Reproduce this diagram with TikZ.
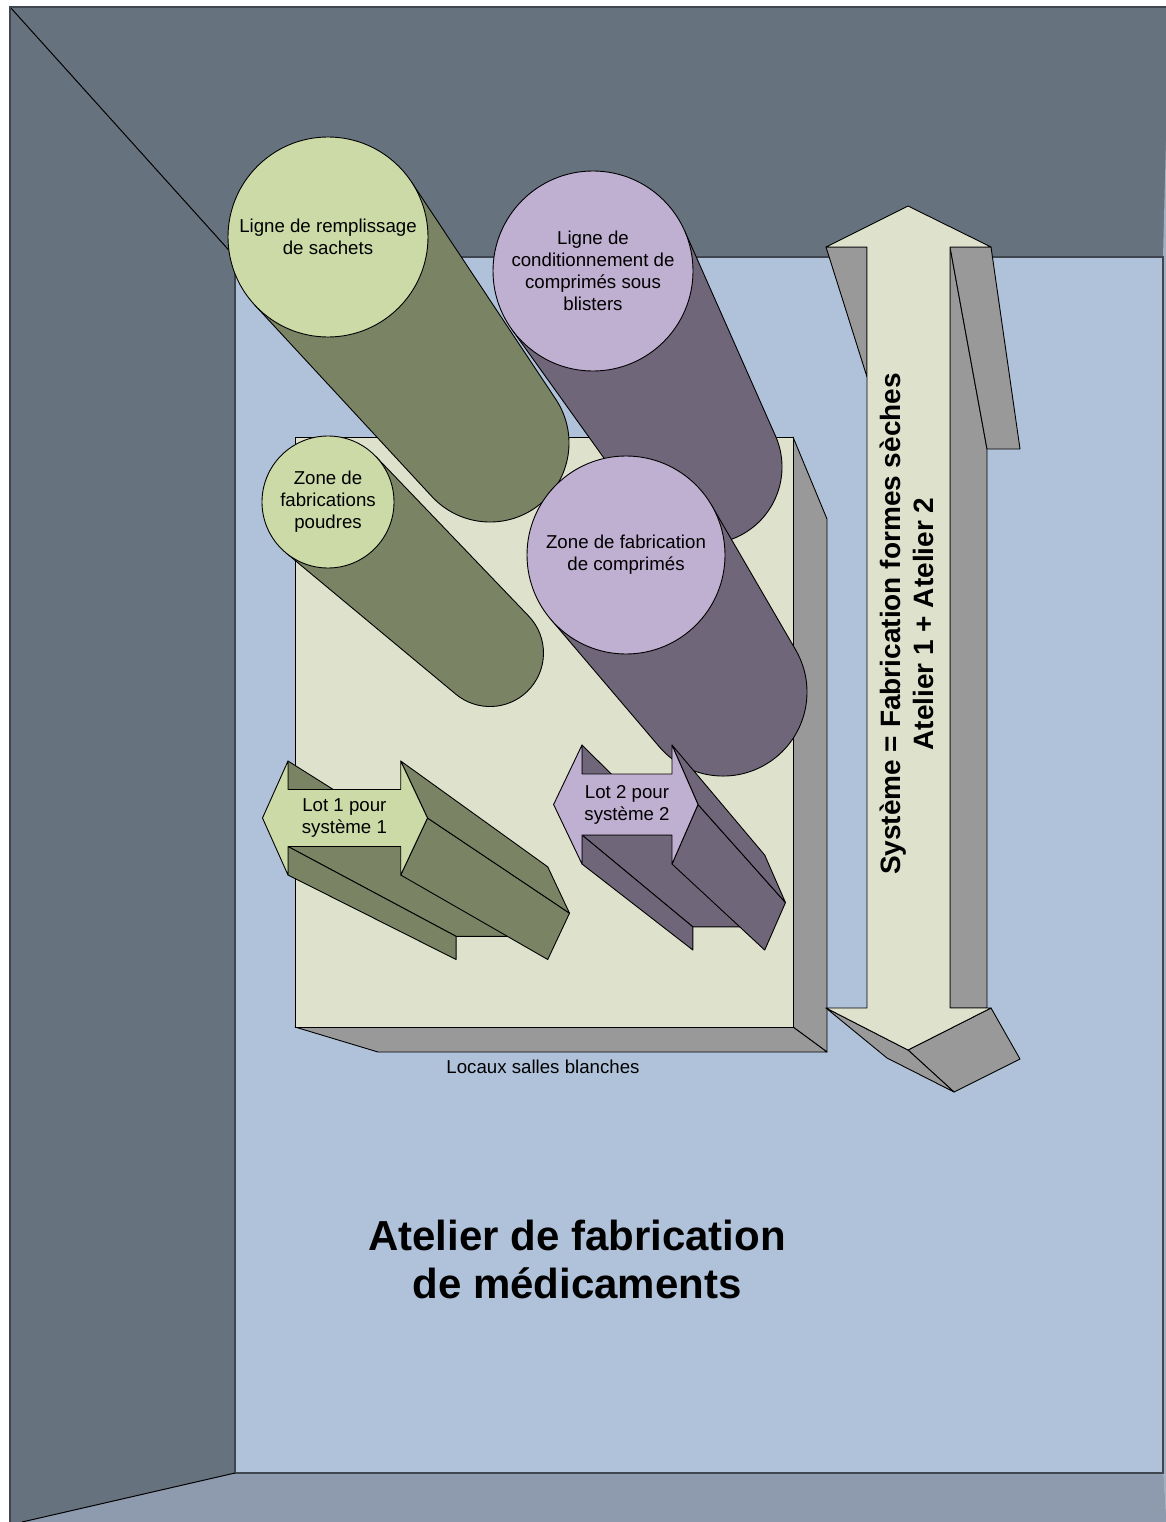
\documentclass[tikz,border=0pt]{standalone}
\usepackage{fontspec}
\setmainfont{Liberation Sans}
\usetikzlibrary{calc}

\definecolor{wallslate}{HTML}{67727F}
\definecolor{backwall}{HTML}{B0C2DA}
\definecolor{floorgray}{HTML}{8E9BAF}
\definecolor{roomface}{HTML}{DEE2CC}
\definecolor{sidegray}{HTML}{999999}
\definecolor{greencap}{HTML}{CCDAA8}
\definecolor{greenbody}{HTML}{7A8364}
\definecolor{purplecap}{HTML}{BFAFD1}
\definecolor{purplebody}{HTML}{706679}
\definecolor{walledge}{HTML}{3F4650}

\newcommand{\lbltext}{\fontsize{18.67}{22}\selectfont}
\newcommand{\systext}{\fontsize{28}{33}\selectfont\bfseries}
\newcommand{\titletext}{\fontsize{42}{48}\selectfont\bfseries}

\begin{document}
\begin{tikzpicture}[
    x=1pt, y=-1pt,
    face/.style={draw=black, line width=0.9pt, line join=round},
    wallline/.style={draw=walledge, line width=1.5pt},
    topdisk/.style={
        circle, draw=black, line width=0.9pt,
        inner sep=0pt, align=center,
        font=\lbltext
    },
    lbl/.style={align=center, font=\lbltext, inner sep=0pt}
]
\useasboundingbox (0,0) rectangle (1166,1522);

% Walls
\fill[wallslate] (10,7) rectangle (1166,1522);
\fill[floorgray] (235,1473) -- (1163,1473) -- (1166,1522) -- (22,1522) -- cycle;
\fill[floorgray!80!white] (1163,257) -- (1166,140) -- (1166,1522) -- (1163,1473) -- cycle;
\draw[wallline, fill=backwall] (235,257) rectangle (1163,1473);
\draw[black, line width=1pt] (10,7) -- (235,257);
\draw[black, line width=1pt] (235,1473) -- (22,1522);
\draw[wallline] (10,1522) -- (10,7) -- (1166,7);

% Clean room block
\draw[face, fill=sidegray] (793,437) -- (827,519) -- (827,1052) -- (793,1027) -- cycle;
\draw[face, fill=sidegray] (295,1027) -- (793,1027) -- (827,1052) -- (378,1052) -- cycle;
\draw[face, fill=roomface] (295,437) rectangle (793,1027);
\node[lbl] (locaux) at (543,1067) {Locaux salles blanches};

% System double arrow
\draw[face, fill=sidegray] (826,247) -- (867,247) -- (867,377) -- cycle;
\draw[face, fill=sidegray] (950,247) -- (987,449) -- (987,1008) -- (950,1008) -- cycle;
\draw[face, fill=sidegray] (950,247) -- (991,247) -- (1020,449) -- (987,449) -- cycle;
\draw[face, fill=sidegray] (991,1008) -- (1020,1059) -- (954,1092) -- (908,1050) -- cycle;
\draw[face, fill=sidegray] (826,1008) -- (908,1050) -- (954,1092) -- (887,1058) -- cycle;
\draw[face, fill=roomface] (908,206) -- (991,247) -- (950,247) -- (950,1008) -- (991,1008)
    -- (908,1050) -- (826,1008) -- (867,1008) -- (867,247) -- (826,247) -- cycle;
\node[rotate=90, align=center, font=\systext] (systeme) at (907,624)
    {Système = Fabrication formes sèches\\Atelier 1 + Atelier 2};

% Blister line
\draw[face, fill=purplebody] (684.5,230.5) -- (775.4,435.8)
    arc[start angle=-23.9, end angle=144.4, radius=77] -- (511.7,329.2) -- cycle;
\node[topdisk, fill=purplecap, minimum size=200pt] (blisters) at (593,271)
    {Ligne de\\conditionnement de\\comprimés sous\\blisters};

% Sachet line
\draw[face, fill=greenbody] (411.3,181.7) -- (555.8,399.3)
    arc[start angle=-33.6, end angle=137.2, radius=79] -- (254.6,304.9) -- cycle;
\node[topdisk, fill=greencap, minimum size=200pt] (sachets) at (328,237)
    {Ligne de remplissage\\de sachets};

% Powder zone
\draw[face, fill=greenbody] (375.6,456.3) -- (528.6,616.0)
    arc[start angle=-43.8, end angle=129.7, radius=53.5] -- (285.8,552.7) -- cycle;
\node[topdisk, fill=greencap, minimum size=132pt] (poudres) at (328,502)
    {Zone de\\fabrications\\poudres};

% Tablet zone
\draw[face, fill=purplebody] (711.6,505.3) -- (795.6,649.8)
    arc[start angle=-30.2, end angle=139.6, radius=84] -- (550.7,619.2) -- cycle;
\node[topdisk, fill=purplecap, minimum size=198pt] (comprimes) at (626,555)
    {Zone de fabrication\\de comprimés};

% Lot 1 arrow
\coordinate (vpa) at (1187,1327);
\foreach \n/\p in {1/{262.5,818}, 2/{288,761}, 3/{288,789.5}, 4/{400.7,789.5}, 5/{400.7,761},
                   6/{427.5,818}, 7/{400.7,875}, 8/{400.7,846.5}, 9/{288,846.5}, 10/{288,875}}
    \coordinate (fa\n) at (\p);
\foreach \n in {1,...,10}
    \coordinate (ba\n) at ($(fa\n)!0.187!(vpa)$);
\foreach \i/\j in {2/3, 8/9, 9/10, 6/7, 5/6}
    \draw[face, fill=greenbody] (fa\i) -- (fa\j) -- (ba\j) -- (ba\i) -- cycle;
\draw[face, fill=greencap] (fa1) \foreach \n in {2,...,10} { -- (fa\n) } -- cycle;
\node[lbl] (lot1) at (344.4,818) {Lot 1 pour\\système 1};

% Lot 2 arrow
\coordinate (vpb) at (1131,1290);
\foreach \n/\p in {1/{553.6,804.5}, 2/{582,745}, 3/{582,774}, 4/{672,774}, 5/{672,745},
                   6/{698,804.5}, 7/{672,864}, 8/{672,835}, 9/{582,835}, 10/{582,864}}
    \coordinate (fb\n) at (\p);
\foreach \n in {1,...,10}
    \coordinate (bb\n) at ($(fb\n)!0.202!(vpb)$);
\foreach \i/\j in {2/3, 8/9, 9/10, 6/7, 5/6}
    \draw[face, fill=purplebody] (fb\i) -- (fb\j) -- (bb\j) -- (bb\i) -- cycle;
\draw[face, fill=purplecap] (fb1) \foreach \n in {2,...,10} { -- (fb\n) } -- cycle;
\node[lbl] (lot2) at (627,804.5) {Lot 2 pour\\système 2};

% Title
\node[align=center, font=\titletext] (atelier) at (577,1259)
    {Atelier de fabrication\\de médicaments};

\end{tikzpicture}
\end{document}
